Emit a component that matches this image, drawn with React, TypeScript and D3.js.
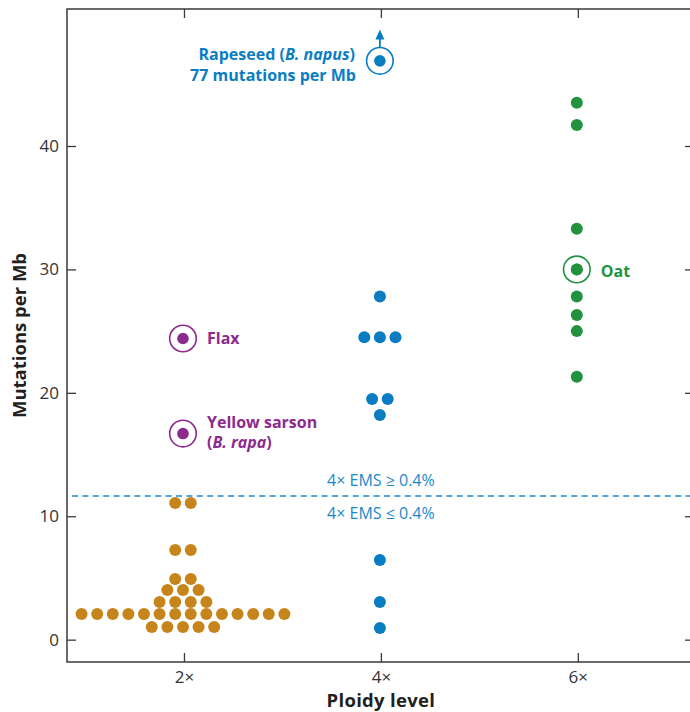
import React, { useEffect, useRef } from "react";
import * as d3 from "d3";

// ploidy axis
const ploidyTicks = [2, 4, 6];
const ploidyLabels = ["2×", "4×", "6×"];
const mutationTicks = [0, 10, 20, 30, 40];

// mutations per Mb, one entry per population
const diploidValues = [
  1.03, 1.03, 1.03, 1.03, 1.03,
  2.08, 2.08, 2.08, 2.08, 2.08, 2.08, 2.08, 2.08, 2.08, 2.08, 2.08, 2.08, 2.08, 2.08,
  3.05, 3.05, 3.05, 3.05,
  4.03, 4.03, 4.03,
  4.92, 4.92,
  7.27, 7.27,
  11.08, 11.08,
];
const tetraploidValues = [0.95, 3.06, 6.46, 18.2, 19.5, 19.5, 24.5, 24.5, 24.5, 27.8];
const hexaploidValues = [21.3, 25.0, 26.3, 27.8, 30.0, 33.3, 41.7, 43.5];

// circled species
const highlightNames = ["Flax", "Yellow sarson", "Rapeseed", "Oat"];
const highlightPloidy = [2, 2, 4, 6];
const highlightValues = [24.4, 16.7, 77, 30.0];
const plotCap = 46.9; // anything above is pinned here with an arrow

const emsThreshold = 11.65;

const COLORS = { 2: "#c7841a", 4: "#0a7dc2", 6: "#22923f" };
const PURPLE = "#8d2a8d";
const EMS_BLUE = "#1b88cc";
const AXIS = "#3a3a3a";
const FONT = "'Open Sans', sans-serif";

// spread equal values sideways, like a simple beeswarm
const swarm = (values: number[]) => {
  const groups = d3.group(values, (v) => v);
  const out: { value: number; slot: number }[] = [];
  groups.forEach((vals, v) => {
    vals.forEach((_, i) => out.push({ value: v, slot: i - (vals.length - 1) / 2 }));
  });
  return out;
};

const PloidyChart = ({ width, height }) => {
  const svgRef = useRef(null);

  useEffect(() => {
    const svg = d3.select(svgRef.current);
    svg.selectAll("*").remove();

    const frame = { left: 67, right: 694, top: 9, bottom: 662 };

    const x = d3.scaleLinear().domain([0.812, 7.18]).range([frame.left, frame.right]);
    const y = d3.scaleLinear().domain([-1.81, 51.1]).range([frame.bottom, frame.top]);
    const step = 15.6;

    // frame
    svg.append("rect")
      .attr("x", frame.left)
      .attr("y", frame.top)
      .attr("width", frame.right - frame.left)
      .attr("height", frame.bottom - frame.top)
      .attr("fill", "none")
      .attr("stroke", AXIS)
      .attr("stroke-width", 1.5);

    const styleAxis = (g) => {
      g.select(".domain").remove();
      g.selectAll("line").attr("stroke", AXIS).attr("stroke-width", 1.3);
      g.selectAll("text")
        .attr("fill", "#333")
        .attr("font-size", 17)
        .attr("font-family", FONT);
    };

    svg.append("g")
      .attr("transform", `translate(${frame.left},0)`)
      .call(d3.axisLeft(y).tickValues(mutationTicks).tickSizeInner(-9).tickSizeOuter(0).tickPadding(8))
      .call(styleAxis);

    svg.append("g")
      .attr("transform", `translate(${frame.right},0)`)
      .call(d3.axisRight(y).tickValues(mutationTicks).tickSizeInner(-9).tickSizeOuter(0).tickFormat(() => ""))
      .call(styleAxis);

    svg.append("g")
      .attr("transform", `translate(0,${frame.bottom})`)
      .call(d3.axisBottom(x).tickValues(ploidyTicks).tickSizeInner(-9).tickSizeOuter(0).tickPadding(9)
        .tickFormat((d, i) => ploidyLabels[i]))
      .call(styleAxis);

    svg.append("g")
      .attr("transform", `translate(0,${frame.top})`)
      .call(d3.axisTop(x).tickValues(ploidyTicks).tickSizeInner(-9).tickSizeOuter(0).tickFormat(() => ""))
      .call(styleAxis);

    // axis titles
    svg.append("text")
      .attr("x", x(4))
      .attr("y", 707)
      .attr("text-anchor", "middle")
      .attr("font-family", FONT)
      .attr("font-weight", 700)
      .attr("font-size", 18.5)
      .attr("letter-spacing", 0.3)
      .attr("fill", "#231f20")
      .text("Ploidy level");

    svg.append("text")
      .attr("transform", `translate(26,${(frame.top + frame.bottom) / 2}) rotate(-90)`)
      .attr("text-anchor", "middle")
      .attr("font-family", FONT)
      .attr("font-weight", 700)
      .attr("font-size", 18.5)
      .attr("fill", "#231f20")
      .text("Mutations per Mb");

    // EMS threshold
    svg.append("line")
      .attr("x1", frame.left + 5)
      .attr("x2", frame.right)
      .attr("y1", y(emsThreshold))
      .attr("y2", y(emsThreshold))
      .attr("stroke", EMS_BLUE)
      .attr("stroke-width", 1.5)
      .attr("stroke-dasharray", "6 4.4");

    [["4× EMS ≥ 0.4%", -10], ["4× EMS ≤ 0.4%", 23.5]].forEach(([t, dy]) => {
      svg.append("text")
        .attr("x", x(4))
        .attr("y", y(emsThreshold) + (dy as number))
        .attr("text-anchor", "middle")
        .attr("font-family", FONT)
        .attr("font-size", 16)
        .attr("fill", EMS_BLUE)
        .text(t as string);
    });

    // dots
    const series = [
      { ploidy: 2, values: diploidValues },
      { ploidy: 4, values: tetraploidValues },
      { ploidy: 6, values: hexaploidValues },
    ];
    series.forEach((s) => {
      svg.append("g")
        .selectAll("circle")
        .data(swarm(s.values))
        .enter().append("circle")
        .attr("cx", (d) => x(s.ploidy) - 1 + d.slot * step)
        .attr("cy", (d) => y(d.value))
        .attr("r", 6)
        .attr("fill", COLORS[s.ploidy]);
    });

    // circled species
    highlightNames.forEach((name, i) => {
      const p = highlightPloidy[i];
      const v = Math.min(highlightValues[i], plotCap);
      const color = p === 2 ? PURPLE : COLORS[p];
      const cx = x(p) - 1;
      const cy = y(v);
      const g = svg.append("g");
      g.append("circle").attr("cx", cx).attr("cy", cy).attr("r", 13.3)
        .attr("fill", "none").attr("stroke", color).attr("stroke-width", 1.6);
      g.append("circle").attr("cx", cx).attr("cy", cy).attr("r", 5.8).attr("fill", color);

      const addLabel = (lx: number, ly: number) =>
        g.append("text")
          .attr("x", lx)
          .attr("y", ly)
          .attr("font-family", FONT)
          .attr("font-weight", 700)
          .attr("font-size", 16)
          .attr("fill", color);

      if (name === "Flax") {
        addLabel(cx + 24, cy + 5.5).text(name);
      } else if (name === "Oat") {
        addLabel(cx + 24, cy + 8).text(name);
      } else if (name === "Yellow sarson") {
        addLabel(cx + 24, cy - 6).text(name);
        const l2 = addLabel(cx + 24, cy + 14);
        l2.append("tspan").text("(");
        l2.append("tspan").attr("font-style", "italic").text("B. rapa");
        l2.append("tspan").text(")");
      } else {
        // off the scale: arrow up + right aligned label
        const top = cy - 13.3;
        g.append("line").attr("x1", cx).attr("x2", cx).attr("y1", top).attr("y2", top - 9)
          .attr("stroke", color).attr("stroke-width", 1.8);
        g.append("path")
          .attr("d", `M${cx},${top - 18} L${cx - 4.5},${top - 8} L${cx + 4.5},${top - 8} Z`)
          .attr("fill", color);
        const l1 = addLabel(cx - 25, cy - 1).attr("text-anchor", "end");
        l1.append("tspan").text(`${name} (`);
        l1.append("tspan").attr("font-style", "italic").text("B. napus");
        l1.append("tspan").text(")");
        addLabel(cx - 24, cy + 20)
          .attr("text-anchor", "end")
          .text(`${highlightValues[i]} mutations per Mb`);
      }
    });
  }, [width, height]);

  return (
    <svg
      ref={svgRef}
      width={width}
      height={height}
      style={{ position: "absolute", left: 0, top: 0, background: "#fff" }}
    ></svg>
  );
};

export default function App() {
  return <PloidyChart width={690} height={712} />;
}
